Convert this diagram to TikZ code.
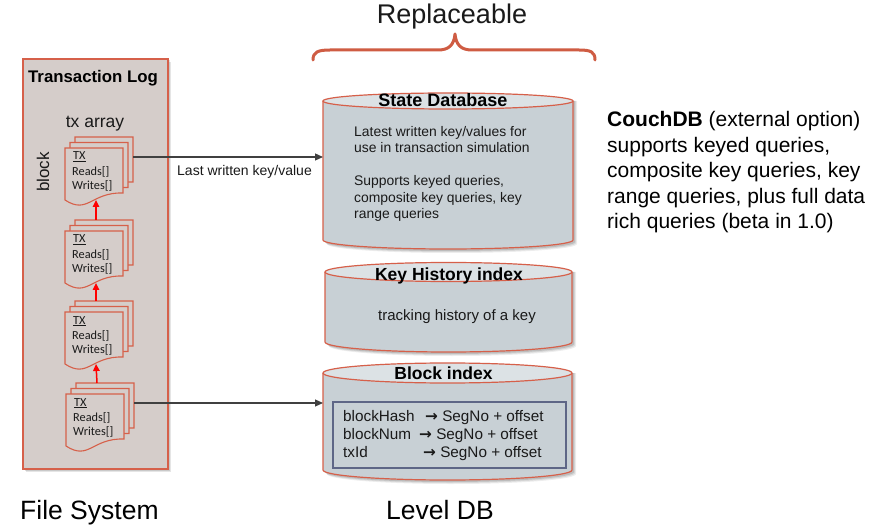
\documentclass[tikz,border=0pt]{standalone}
\usepackage{fontspec}
\setmainfont{Liberation Sans}
\newfontfamily\calib{Carlito}
\newfontfamily\djv{DejaVu Sans}
\usetikzlibrary{arrows.meta}
\definecolor{tlfill}{HTML}{D5CDCA}
\definecolor{orng}{HTML}{D6604A}
\definecolor{brc}{HTML}{CF5C43}
\definecolor{cylbody}{HTML}{C8D0D5}
\definecolor{cyltop}{HTML}{DCE2E5}
\definecolor{slate}{HTML}{5E6686}
\definecolor{conn}{HTML}{404040}
\definecolor{txtc}{HTML}{1A1A1A}
\newcommand\setfs[1]{\fontsize{#1}{#1}\selectfont}
\newcommand\rarr{{\djv\bfseries →}}

\newcommand\txdoc[3]{%
  \foreach \k in {2,1,0}{%
    \pgfmathsetmacro\pa{#2+5*\k}\pgfmathsetmacro\pb{#3-5.5*\k}%
    \filldraw[docpage] ({\pa},{\pb}) -- ({\pa+58},{\pb}) -- ({\pa+58},{\pb+45})
      .. controls ({\pa+26},{\pb+44}) and ({\pa+23},{\pb+67}) .. ({\pa},{\pb+52}) -- cycle;
  }
  \node[inner sep=0, minimum width=58, minimum height=52, anchor=north west] (#1) at (#2,#3) {};
  \node[doctxt] (#1-a) at ({#2+8},{#3+12}) {\underline{TX}};
  \node[doctxt] (#1-b) at ({#2+7},{#3+27.5}) {Reads[]};
  \node[doctxt] (#1-c) at ({#2+7},{#3+41.5}) {Writes[]};
  \coordinate (#1-top) at ({#2+31},{#3-11});
  \coordinate (#1-bot) at ({#2+31},{#3+52});
  \coordinate (#1-r) at ({#2+68},{#3+9});
}

\newcommand\dbcyl[7]{%
  \pgfmathsetmacro\cyL{#2}\pgfmathsetmacro\cyR{#3}%
  \pgfmathsetmacro\cyT{#4}\pgfmathsetmacro\cyB{#5}%
  \pgfmathsetmacro\cyP{#6}\pgfmathsetmacro\cyQ{#7}%
  \pgfmathsetmacro\cyX{(\cyL+\cyR)/2}\pgfmathsetmacro\cyW{(\cyR-\cyL)/2}%
  \foreach \s/\o in {4/0.07,3/0.09,2/0.12}{%
    \fill[black, opacity=\o] ({\cyL+\s},{\cyT}) -- ({\cyL+\s},{\cyB+\s})
      .. controls ({\cyL+\s},{\cyB+\s+0.5523*\cyQ}) and ({\cyX+\s-0.5523*\cyW},{\cyB+\s+\cyQ}) .. ({\cyX+\s},{\cyB+\s+\cyQ})
      .. controls ({\cyX+\s+0.5523*\cyW},{\cyB+\s+\cyQ}) and ({\cyR+\s},{\cyB+\s+0.5523*\cyQ}) .. ({\cyR+\s},{\cyB+\s})
      -- ({\cyR+\s},{\cyT}) -- cycle;
  }
  \filldraw[cylline, fill=cylbody] ({\cyL},{\cyT}) -- ({\cyL},{\cyB})
      .. controls ({\cyL},{\cyB+0.5523*\cyQ}) and ({\cyX-0.5523*\cyW},{\cyB+\cyQ}) .. ({\cyX},{\cyB+\cyQ})
      .. controls ({\cyX+0.5523*\cyW},{\cyB+\cyQ}) and ({\cyR},{\cyB+0.5523*\cyQ}) .. ({\cyR},{\cyB})
      -- ({\cyR},{\cyT});
  \filldraw[cylline, fill=cyltop] ({\cyX},{\cyT}) ellipse [x radius=\cyW, y radius=\cyP];
  \node[inner sep=0, minimum width={\cyR-\cyL}, minimum height={\cyB-\cyT}, anchor=north west] (#1) at ({\cyL},{\cyT}) {};
}

\begin{document}
\begin{tikzpicture}[x=1pt,y=-1pt,
  docpage/.style={draw=orng, fill=tlfill, line width=1.1pt},
  doctxt/.style={inner sep=0, anchor=base west, font=\calib\setfs{12.3}, text=txtc},
  cylline/.style={draw=orng, line width=1.2pt},
  lbl/.style={inner sep=0, anchor=base west, text=txtc},
  ttl/.style={inner sep=0, anchor=base, font=\bfseries\setfs{17.5}, text=black},
  redarrow/.style={draw=red, line width=1.5pt, -{Triangle[length=7pt,width=6.5pt]}},
  connarrow/.style={draw=conn, line width=1.2pt, -{Triangle[length=8pt,width=7pt]}}
]
\useasboundingbox (0,0) rectangle (877,526);
\fill[white] (0,0) rectangle (877,526);

% Transaction log box
\fill[black, opacity=0.10] (26,62) rectangle (171,472);
\fill[black, opacity=0.12] (24.5,60.5) rectangle (169.5,470.5);
\node[draw=orng, fill=tlfill, line width=2pt, inner sep=0, minimum width=145, minimum height=410, anchor=north west] (tlog) at (22,58) {};
\node[ttl, font=\bfseries\setfs{16.8}] (tltitle) at (93,82.5) {Transaction Log};
\node[lbl, anchor=base, font=\setfs{17.5}] (txarr) at (95,127.5) {tx array};
\node[inner sep=0, rotate=90, font=\setfs{17}, text=txtc] (blk) at (43,172) {block};

\txdoc{d1}{65}{148}
\txdoc{d2}{65}{231}
\txdoc{d3}{65}{312}
\txdoc{d4}{66}{394}

\draw[redarrow] (d2-top) -- (d1-bot);
\draw[redarrow] (d3-top) -- (d2-bot);
\draw[redarrow] (d4-top) -- (d3-bot);

% cylinders
\dbcyl{sdb}{323}{573}{101}{240}{8}{9}
\dbcyl{khi}{325}{572}{272}{342}{9.5}{10}
\dbcyl{bidx}{323}{572}{373}{470}{10}{10}

\node[ttl, font=\bfseries\setfs{18}] (sdbt) at (443,106.5) {State Database};
\begin{scope}[every node/.style={lbl, font=\setfs{13.9}}]
\node (s1) at (354,136.7) {Latest written key/values for};
\node (s2) at (354,152.9) {use in transaction simulation};
\node (s3) at (354,186) {Supports keyed queries,};
\node (s4) at (354,202.2) {composite key queries, key};
\node (s5) at (354,218.4) {range queries};
\end{scope}

\node[ttl] (khit) at (449,281) {Key History index};
\node[lbl, font=\setfs{15}] (khitx) at (378,320.7) {tracking history of a key};

\node[ttl] (bidxt) at (443.5,379.5) {Block index};
\node[draw=slate, fill=cylbody, line width=2pt, inner sep=0, minimum width=233, minimum height=66, anchor=north west] (bmap) at (332,401) {};
\begin{scope}[every node/.style={lbl, font=\setfs{15.3}}]
\node (b1a) at (343,421) {blockHash};
\node (b1b) at (425,421) {\rarr\ SegNo + offset};
\node (b2a) at (343,439) {blockNum};
\node (b2b) at (419,439) {\rarr\ SegNo + offset};
\node (b3a) at (343,457) {txId};
\node (b3b) at (423,457) {\rarr\ SegNo + offset};
\end{scope}

% connectors
\draw[connarrow] (d1-r) -- (d1-r -| sdb.west);
\node[lbl, font=\setfs{14}] (lastlbl) at (177,176) {Last written key/value};
\draw[connarrow] (d4-r) -- (d4-r -| bidx.west);

% brace
\draw[brc, line width=3pt, line cap=round, line join=round]
  (313,60) .. controls (313,52) and (318,50) .. (330,50) -- (438,50)
  .. controls (449,50) and (454,45) .. (455,34)
  .. controls (456,45) and (461,50) .. (472,50) -- (579,50)
  .. controls (591,50) and (595,52) .. (595,60);
\node[ttl, font=\setfs{27}, text=txtc] (repl) at (452,23.5) {Replaceable};

% CouchDB text
\begin{scope}[every node/.style={lbl, font=\setfs{21}, text=black}]
\node (c1) at (607,127) {\textbf{CouchDB} (external option)};
\node (c2) at (607,152.5) {supports keyed queries,};
\node (c3) at (607,178) {composite key queries, key};
\node (c4) at (607,203.5) {range queries, plus full data};
\node (c5) at (607,229) {rich queries (beta in 1.0)};
\end{scope}

\node[lbl, font=\setfs{26.5}, text=black] (fs) at (20,519.5) {File System};
\node[lbl, font=\setfs{26.5}, text=black] (ldb) at (386,519.5) {Level DB};
\end{tikzpicture}
\end{document}
